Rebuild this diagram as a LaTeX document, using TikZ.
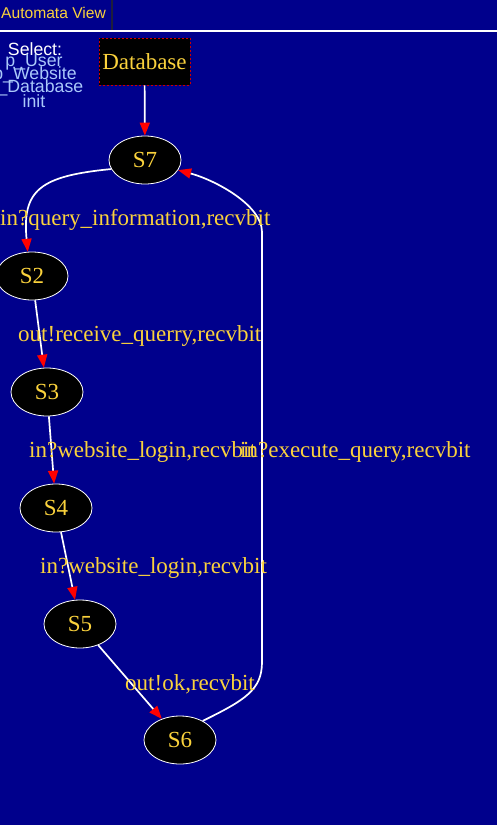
\documentclass[tikz,border=0pt]{standalone}
\usepackage{fontspec}
\setmainfont{Liberation Serif}
\setsansfont{Liberation Sans}
\usetikzlibrary{arrows.meta,shapes.geometric}
\definecolor{bgblue}{RGB}{0,0,140}
\definecolor{txtyellow}{RGB}{250,210,60}
\definecolor{selblue}{RGB}{170,200,250}
\definecolor{tabborder}{RGB}{30,30,60}
\begin{document}
\begin{tikzpicture}[x=1pt,y=-1pt,
  state/.style={ellipse,draw=white,line width=0.8pt,fill=black,text=txtyellow,
    minimum width=72pt,minimum height=48pt,inner sep=0pt,font=\fontsize{23}{26}\selectfont},
  edge/.style={draw=white,line width=1.7pt,-{Triangle[length=13pt,width=10pt,fill=red,color=red]}},
  lbl/.style={text=txtyellow,anchor=west,inner sep=0pt,font=\fontsize{23}{26}\selectfont},
  sel/.style={text=selblue,inner sep=0pt,font=\sffamily\fontsize{17.7}{20}\selectfont}]
\useasboundingbox (0,0) rectangle (497,825);
\fill[bgblue] (0,0) rectangle (497,825);
% tab
\draw[tabborder,line width=1.5pt] (112,0) -- (112,30);
\node[text=txtyellow,anchor=west,inner sep=0pt,font=\sffamily\fontsize{15.6}{18}\selectfont] (tab) at (1,13) {Automata View};
\draw[white,line width=2pt] (0,31) -- (497,31);
% select list
\node[sel,text=white] (select) at (35,49) {Select:};
\node[sel] (puser) at (34,62) {p\_User};
\node[sel] (pweb) at (35,75) {p\_Website};
\node[sel] (pdb) at (35.5,88) {p\_Database};
\node[sel] (init) at (34,101) {init};
% database
\node[draw=red!80!black,dash pattern=on 2pt off 2pt,line width=0.8pt,fill=black,text=txtyellow,
  minimum width=91pt,minimum height=47pt,inner sep=0pt,font=\fontsize{23}{26}\selectfont] (db) at (144.5,61.5) {Database};
% states
\node[state] (S7) at (145,160) {S7};
\node[state] (S2) at (32,276) {S2};
\node[state] (S3) at (47,392) {S3};
\node[state] (S4) at (56,508) {S4};
\node[state] (S5) at (80,624) {S5};
\node[state] (S6) at (180,740) {S6};
\coordinate (c1) at (262,662);
\coordinate (c2) at (262,232);
% edges
\draw[edge] (db) -- (S7);
\draw[edge] (S7.195) .. controls (40,176) and (22,190) .. (S2.100);
\draw[edge] (S2) -- (S3);
\draw[edge] (S3) -- (S4);
\draw[edge] (S4) -- (S5);
\draw[edge] (S5) -- (S6);
\draw[edge] (S6.40) .. controls (245,700) and (262,690) .. (c1) -- (c2) .. controls (262,205) and (215,180) .. (S7.-17);
% labels
\node[lbl] (l1) at (0,220) {in?query\_information,recvbit};
\node[lbl] (l2) at (18,336) {out!receive\_querry,recvbit};
\node[lbl] (l3) at (29,452) {in?website\_login,recvbit};
\node[lbl] (l4) at (240,452) {in?execute\_query,recvbit};
\node[lbl] (l5) at (40,568) {in?website\_login,recvbit};
\node[lbl] (l6) at (125,684) {out!ok,recvbit};
\end{tikzpicture}
\end{document}
